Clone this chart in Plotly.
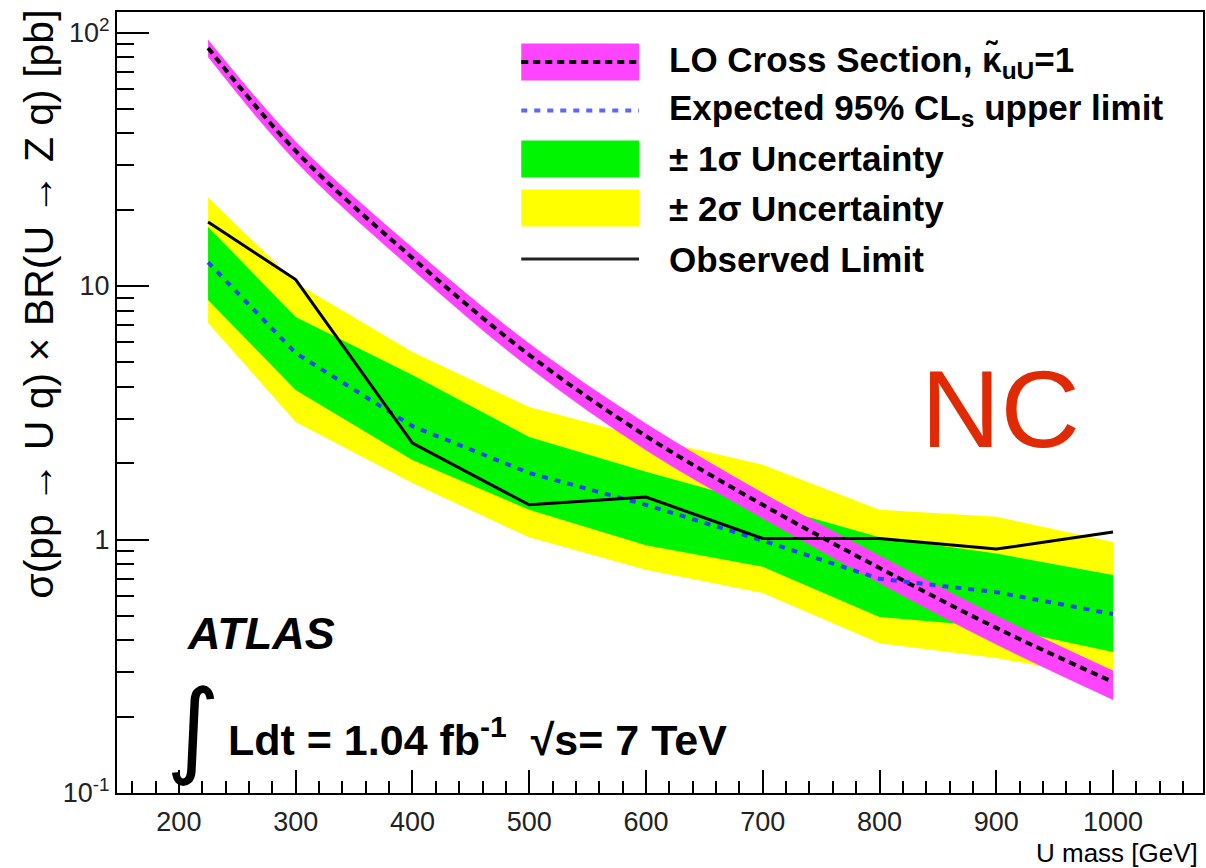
import plotly.graph_objects as go

# ---------------- data ----------------
mass = [225, 300, 400, 500, 600, 700, 800, 900, 1000]
lo_xsec = [86.9, 34.1, 12.9, 5.35, 2.56, 1.37, 0.772, 0.448, 0.274]
lo_up = [93.9, 37.2, 14.2, 5.94, 2.87, 1.53, 0.865, 0.502, 0.304]
lo_dn = [80.0, 31.0, 11.6, 4.76, 2.25, 1.21, 0.672, 0.385, 0.233]
expected = [12.4, 5.44, 2.8, 1.83, 1.37, 0.99, 0.70, 0.62, 0.508]
one_sig_up = [17.1, 7.55, 4.46, 2.54, 1.85, 1.38, 1.02, 0.88, 0.725]
one_sig_dn = [8.81, 3.89, 2.06, 1.31, 0.95, 0.78, 0.495, 0.452, 0.36]
two_sig_up = [22.4, 10.3, 5.49, 3.33, 2.52, 1.97, 1.31, 1.23, 0.977]
two_sig_dn = [7.15, 2.91, 1.67, 1.02, 0.76, 0.615, 0.39, 0.341, 0.28]
observed = [17.9, 10.6, 2.40, 1.37, 1.47, 1.01, 1.01, 0.917, 1.07]

x_ticks = [200, 300, 400, 500, 600, 700, 800, 900, 1000]
y_ticks = [0.1, 1, 10, 100]
y_tick_text = ["10<sup>-1</sup>", "1", "10", "10<sup>2</sup>"]

legend_labels = [
    "LO Cross Section, \u03ba\u0303<sub>uU</sub>=1",
    "Expected 95% CL<sub>s</sub> upper limit",
    "\u00b1 1\u03c3 Uncertainty",
    "\u00b1 2\u03c3 Uncertainty",
    "Observed Limit",
]

# ---------------- style ----------------
W, H = 1206, 868
L, R, T, B = 117, 1, 12, 75
MAGENTA = "#ff44ff"
GREEN = "#00f500"
YELLOW = "#ffff00"
BLUE = "#2546ee"
FONT = "Liberation Sans, Arial, Helvetica, sans-serif"

pw, ph = W - L - R, H - T - B


def px(xp):
    return (xp - L) / pw


def py(yp):
    return (H - B - yp) / ph


def band(lo, hi):
    return mass + mass[::-1], hi + lo[::-1]


fig = go.Figure()

bx, by = band(two_sig_dn, two_sig_up)
fig.add_trace(go.Scatter(x=bx, y=by, fill="toself", fillcolor=YELLOW,
                         line=dict(width=0), mode="lines", hoverinfo="skip"))
bx, by = band(one_sig_dn, one_sig_up)
fig.add_trace(go.Scatter(x=bx, y=by, fill="toself", fillcolor=GREEN,
                         line=dict(width=0), mode="lines", hoverinfo="skip"))
# LO theory band (smooth)
fig.add_trace(go.Scatter(x=mass, y=lo_dn, mode="lines", line=dict(width=0, shape="spline"),
                         hoverinfo="skip"))
fig.add_trace(go.Scatter(x=mass, y=lo_up, mode="lines", fill="tonexty", fillcolor=MAGENTA,
                         line=dict(width=0, shape="spline"), hoverinfo="skip"))
fig.add_trace(go.Scatter(x=mass, y=lo_xsec, mode="lines",
                         line=dict(color="black", width=4, dash="7px,5px", shape="spline")))
fig.add_trace(go.Scatter(x=mass, y=expected, mode="lines",
                         line=dict(color=BLUE, width=4, dash="6px,7px")))
fig.add_trace(go.Scatter(x=mass, y=observed, mode="lines",
                         line=dict(color="black", width=3)))

# ---------------- legend (drawn manually) ----------------
row_y = [62, 110.5, 159, 208, 259]
box_x0, box_x1, text_x = 522, 640, 668
half = 18.5
shapes = []
shapes.append(dict(type="rect", xref="paper", yref="paper",
                   x0=px(box_x0), x1=px(box_x1), y0=py(row_y[0] + half), y1=py(row_y[0] - half),
                   fillcolor=MAGENTA, line=dict(width=0)))
shapes.append(dict(type="line", xref="paper", yref="paper",
                   x0=px(box_x0), x1=px(box_x1), y0=py(row_y[0]), y1=py(row_y[0]),
                   line=dict(color="black", width=4, dash="7px,5px")))
shapes.append(dict(type="line", xref="paper", yref="paper",
                   x0=px(box_x0), x1=px(box_x1), y0=py(row_y[1]), y1=py(row_y[1]),
                   line=dict(color="#5a66ff", width=4, dash="6px,7px")))
shapes.append(dict(type="rect", xref="paper", yref="paper",
                   x0=px(box_x0), x1=px(box_x1), y0=py(row_y[2] + half), y1=py(row_y[2] - half),
                   fillcolor=GREEN, line=dict(width=0)))
shapes.append(dict(type="rect", xref="paper", yref="paper",
                   x0=px(box_x0), x1=px(box_x1), y0=py(row_y[3] + half), y1=py(row_y[3] - half),
                   fillcolor=YELLOW, line=dict(width=0)))
shapes.append(dict(type="line", xref="paper", yref="paper",
                   x0=px(box_x0), x1=px(box_x1), y0=py(row_y[4]), y1=py(row_y[4]),
                   line=dict(color="#222222", width=3)))

annotations = []
for lab, ry in zip(legend_labels, row_y):
    annotations.append(dict(text="<b>" + lab + "</b>", xref="paper", yref="paper",
                            x=px(text_x), y=py(ry), xanchor="left", yanchor="middle",
                            showarrow=False, font=dict(family=FONT, size=35, color="black")))

# ATLAS labels
annotations.append(dict(text="<b><i>ATLAS</i></b>", xref="paper", yref="paper",
                        x=px(185), y=py(633), xanchor="left", yanchor="middle",
                        showarrow=False, font=dict(family=FONT, size=45, color="black")))
annotations.append(dict(text="\u222b", xref="paper", yref="paper",
                        x=px(193), y=py(728), xanchor="center", yanchor="middle",
                        showarrow=False, font=dict(family="DejaVu Sans", size=104, color="black")))
annotations.append(dict(text="<b>Ldt = 1.04 fb<sup>-1</sup>  \u221as= 7 TeV</b>", xref="paper", yref="paper",
                        x=px(226), y=py(737), xanchor="left", yanchor="middle",
                        showarrow=False, font=dict(family=FONT, size=43, color="black")))
# NC
annotations.append(dict(text="NC", xref="paper", yref="paper",
                        x=px(1002), y=py(408), xanchor="center", yanchor="middle",
                        showarrow=False, font=dict(family=FONT, size=110, color="#e02a03")))
# axis titles
annotations.append(dict(text="U mass [GeV]", xref="paper", yref="paper",
                        x=px(1202), y=py(853), xanchor="right", yanchor="middle",
                        showarrow=False, font=dict(family=FONT, size=26, color="black")))
annotations.append(dict(text="\u03c3(pp \u2192 U q) \u00d7 BR(U \u2192 Z q) [pb]", xref="paper", yref="paper",
                        x=px(38), y=py(8), xanchor="center", yanchor="top", textangle=-90,
                        showarrow=False, font=dict(family=FONT, size=41, color="black")))

minor_y = [m * 10 ** e for e in (-1, 0, 1) for m in range(2, 10)]

fig.update_layout(
    width=W, height=H,
    margin=dict(l=L, r=R, t=T, b=B),
    paper_bgcolor="white", plot_bgcolor="white",
    showlegend=False,
    shapes=shapes, annotations=annotations,
    xaxis=dict(range=[147, 1077], tickmode="array", tickvals=x_ticks,
               ticks="inside", ticklen=23, tickwidth=2, tickcolor="black",
               showline=True, linecolor="black", linewidth=2, mirror=True,
               showgrid=False, zeroline=False, ticklabelstandoff=4,
               tickfont=dict(family=FONT, size=27, color="#222222"),
               minor=dict(dtick=20, tick0=0, ticks="inside", ticklen=12, tickwidth=2,
                          tickcolor="black", showgrid=False)),
    yaxis=dict(type="log", range=[-1, 2.081], tickmode="array", tickvals=y_ticks,
               ticktext=y_tick_text,
               ticks="inside", ticklen=32, tickwidth=2, tickcolor="black",
               showline=True, linecolor="black", linewidth=2, mirror=True,
               showgrid=False, zeroline=False,
               tickfont=dict(family=FONT, size=27, color="#222222"),
               minor=dict(tickmode="array", tickvals=minor_y, ticks="inside", ticklen=17,
                          tickwidth=2, tickcolor="black", showgrid=False)),
)

fig.write_html("out.html", config={"displayModeBar": False},
               post_script="document.body.style.margin='0';document.body.style.overflow='hidden';")
